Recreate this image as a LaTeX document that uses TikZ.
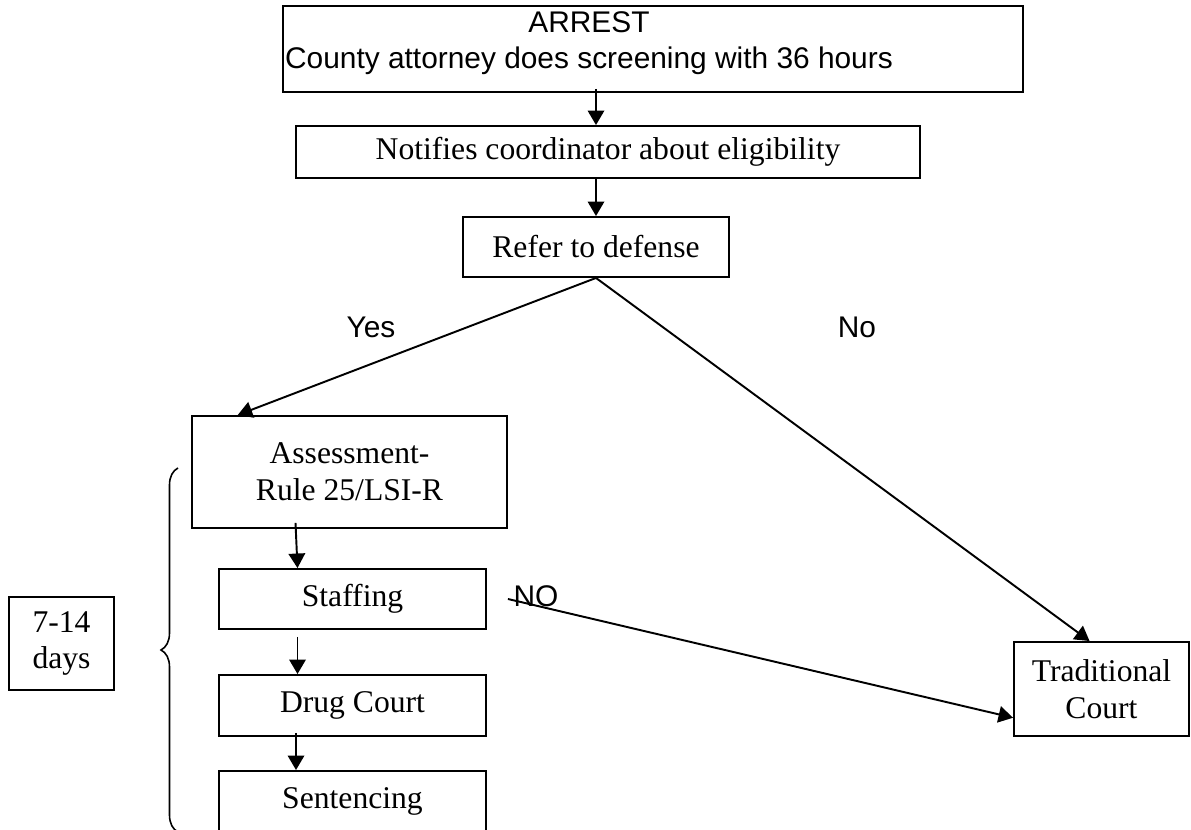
\documentclass[tikz,border=0pt]{standalone}
\usepackage{fontspec}
\setmainfont{Liberation Serif}
\newfontfamily\arialfont{Liberation Sans}
\usetikzlibrary{arrows.meta,calc,decorations.pathreplacing}

\begin{document}
\begin{tikzpicture}[x=0.02cm,y=-0.02cm,
	box/.style={draw,line width=1.1pt,inner sep=0pt,align=center,font=\fontsize{18}{21}\selectfont},
	arr/.style={line width=1.1pt,-{Triangle[length=0.29cm,width=0.33cm]}},
	lbl/.style={font=\arialfont\fontsize{17}{20.5}\selectfont}]
			%%%%% START %%%%%
			\useasboundingbox (0,0) rectangle (1191,830);
			
			\node[box,minimum width=14.8cm,minimum height=1.72cm] (arrest) at (653,49) {};
			\node[lbl,align=center] (arresttext) at (589,43) {ARREST\\County attorney does screening with 36 hours};
			\node[box,minimum width=12.48cm,minimum height=1.04cm] (notify) at (608,152) {Notifies coordinator about eligibility};
			\node[box,minimum width=5.32cm,minimum height=1.2cm] (refer) at (596,247) {Refer to defense};
			
			\node[box,minimum width=6.3cm,minimum height=2.24cm] (assess) at (349.5,472) {Assessment-\\Rule 25/LSI-R};
			\node[box,minimum width=5.34cm,minimum height=1.2cm] (staff) at (352.5,599) {Staffing};
			\node[box,minimum width=5.34cm,minimum height=1.22cm] (drug) at (352.5,705.5) {Drug Court};
			\node[box,minimum width=5.34cm,minimum height=1.2cm] (sentence) at (352.5,801) {Sentencing};
			
			\node[box,minimum width=2.1cm,minimum height=1.86cm] (days) at (61.5,643.5) {7-14\\days};
			\node[box,minimum width=3.5cm,minimum height=1.88cm] (trad) at (1101.5,689) {Traditional\\Court};
			
			\node[lbl] (yes) at (371,327) {Yes};
			\node[lbl] (no) at (857,327) {No};
			\node[lbl] (nostaff) at (536,596) {NO};
			
			\draw[arr] ([yshift=0.08cm]arrest.south -| refer) -- (notify.north -| refer);
			\draw[arr] (notify.south -| refer) -- (refer.north);
			\draw[arr] (refer.south) -- (assess.153);
			\draw[arr] (refer.south) -- (trad.104);
			
			\draw[arr] ([xshift=-1.08cm,yshift=0.12cm]assess.south) -- ([xshift=-1.1cm]staff.north);
			\draw[arr] ([xshift=-1.1cm,yshift=-0.14cm]staff.south) -- ([xshift=-1.1cm]drug.north);
			\draw[arr] ([xshift=-1.13cm,yshift=0.08cm]drug.south) -- ([xshift=-1.13cm]sentence.north);
			
			\draw[arr] ([xshift=0.42cm]staff.east) -- (trad.198);
			
			\draw[line width=0.9pt,decorate,decoration={brace,amplitude=0.34cm}] (178,832) -- (178,468);
			%%%%% END %%%%%
\end{tikzpicture}
\end{document}
